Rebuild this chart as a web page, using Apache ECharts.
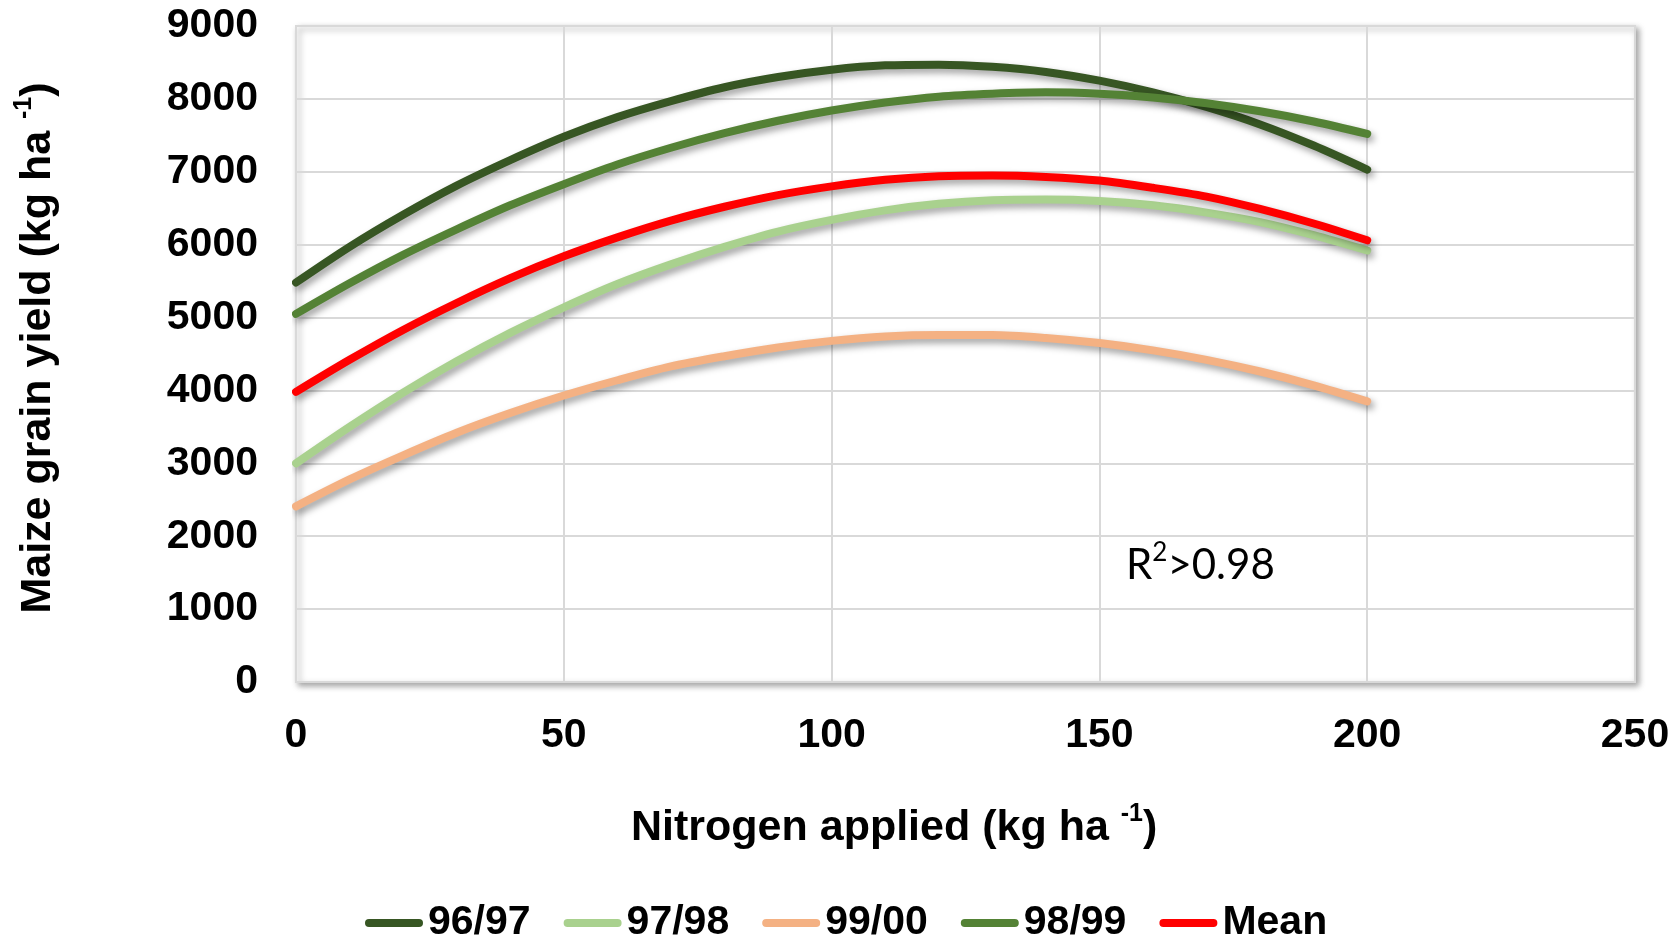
<!DOCTYPE html>
<html>
<head>
<meta charset="utf-8">
<title>Maize grain yield response to nitrogen</title>
<script src="https://cdn.jsdelivr.net/npm/echarts@6/dist/echarts.min.js"></script>
<style>
  html, body { margin: 0; padding: 0; background: #ffffff; }
  #chart { width: 1678px; height: 940px; }
</style>
</head>
<body>
<div id="chart"></div>
<script>
// Nitrogen rates (kg ha-1) at which the fitted response curves are sampled
const nitrogenRates = [0, 10, 20, 30, 40, 50, 60, 70, 80, 90, 100,
                       110, 120, 130, 140, 150, 160, 170, 180, 190, 200];

// Fitted maize grain yield (kg ha-1) per season
const yield9697 = [5480, 5970, 6410, 6810, 7160, 7480, 7750, 7970, 8160, 8300, 8400,
                   8460, 8470, 8440, 8370, 8250, 8090, 7890, 7650, 7360, 7030];
const yield9798 = [3000, 3500, 3970, 4400, 4790, 5140, 5460, 5730, 5970, 6180, 6340,
                   6470, 6560, 6610, 6620, 6600, 6540, 6440, 6310, 6130, 5920];
const yield9900 = [2410, 2780, 3110, 3420, 3690, 3930, 4140, 4330, 4470, 4590, 4680,
                   4740, 4760, 4760, 4720, 4650, 4550, 4420, 4260, 4070, 3850];
const yield9899 = [5050, 5470, 5860, 6210, 6540, 6830, 7100, 7330, 7530, 7700, 7840,
                   7950, 8030, 8070, 8090, 8070, 8020, 7940, 7830, 7690, 7520];
const yieldMean = [3980, 4420, 4830, 5200, 5540, 5840, 6100, 6330, 6520, 6680, 6800,
                   6890, 6940, 6950, 6930, 6880, 6780, 6660, 6490, 6290, 6060];

const seriesNames = ['96/97', '97/98', '99/00', '98/99', 'Mean'];
const seriesValues = [yield9697, yield9798, yield9900, yield9899, yieldMean];
const seriesColors = ['#375623', '#A9D18E', '#F4B183', '#548235', '#FF0000'];

const xTicks = { min: 0, max: 250, interval: 50 };
const yTicks = { min: 0, max: 9000, interval: 1000 };

const FONT = "'Liberation Sans', Arial, Helvetica, sans-serif";
const capsule = 'path://M4,0 L54,0 A4,4 0 0 1 54,8 L4,8 A4,4 0 0 1 4,0 Z';

const chart = echarts.init(document.getElementById('chart'), null, { renderer: 'canvas' });

const series = seriesNames.map((name, i) => ({
  name: name,
  type: 'line',
  smooth: 0.3,
  symbol: 'none',
  showSymbol: false,
  color: seriesColors[i],
  data: nitrogenRates.map((x, j) => [x, seriesValues[i][j]]),
  lineStyle: {
    width: 8,
    color: seriesColors[i],
    cap: 'round',
    join: 'round',
    shadowColor: 'rgba(0,0,0,0.38)',
    shadowBlur: 7,
    shadowOffsetX: 3,
    shadowOffsetY: 4
  },
  emphasis: { disabled: true },
  z: 3 + i
}));

const titleRich = {
  t: { fontFamily: FONT, fontWeight: 'bold', fontSize: 43, lineHeight: 48, fill: '#000', verticalAlign: 'bottom' },
  s: { fontFamily: FONT, fontWeight: 'bold', fontSize: 25, lineHeight: 25, fill: '#000', verticalAlign: 'top' }
};

const option = {
  animation: false,
  backgroundColor: '#ffffff',
  grid: {
    show: true,
    left: 296,
    right: 43,
    top: 26,
    bottom: 258,
    backgroundColor: '#ffffff',
    borderColor: '#d9d9d9',
    borderWidth: 2,
    shadowColor: 'rgba(0,0,0,0.35)',
    shadowBlur: 6,
    shadowOffsetX: 3,
    shadowOffsetY: 3
  },
  xAxis: {
    type: 'value',
    min: xTicks.min,
    max: xTicks.max,
    interval: xTicks.interval,
    axisLine: { show: false },
    axisTick: { show: false },
    splitLine: { show: true, lineStyle: { color: '#d9d9d9', width: 2 } },
    axisLabel: {
      margin: 33,
      color: '#000000',
      fontFamily: FONT,
      fontWeight: 'bold',
      fontSize: 41,
      formatter: (v) => String(v)
    }
  },
  yAxis: {
    type: 'value',
    min: yTicks.min,
    max: yTicks.max,
    interval: yTicks.interval,
    axisLine: { show: false },
    axisTick: { show: false },
    splitLine: { show: true, lineStyle: { color: '#d9d9d9', width: 2 } },
    axisLabel: {
      margin: 38,
      color: '#000000',
      fontFamily: FONT,
      fontWeight: 'bold',
      fontSize: 41,
      formatter: (v) => String(v)
    }
  },
  legend: {
    data: seriesNames,
    left: 365,
    top: 901,
    padding: 0,
    orient: 'horizontal',
    icon: capsule,
    itemWidth: 58,
    itemHeight: 8,
    itemGap: 33,
    selectedMode: false,
    textStyle: {
      color: '#000000',
      fontFamily: FONT,
      fontWeight: 'bold',
      fontSize: 41,
      lineHeight: 44
    }
  },
  graphic: [
    {
      type: 'text',
      left: 631,
      top: 802,
      silent: true,
      style: {
        text: '{t|Nitrogen applied (kg ha }{s|-1}{t|)}',
        rich: titleRich
      }
    },
    {
      type: 'text',
      x: 36,
      y: 348,
      rotation: Math.PI / 2,
      silent: true,
      style: {
        text: '{t|Maize grain yield (kg ha }{s|-1}{t|)}',
        align: 'center',
        verticalAlign: 'middle',
        rich: titleRich
      }
    },
    {
      type: 'text',
      left: 1126,
      top: 540,
      silent: true,
      style: {
        text: '{a|R}{s|2}{a|>0.98}',
        rich: {
          a: { fontFamily: "Lato, 'Open Sans', sans-serif", fontSize: 42, lineHeight: 46, fill: '#000', verticalAlign: 'bottom' },
          s: { fontFamily: "Lato, 'Open Sans', sans-serif", fontSize: 26, lineHeight: 26, fill: '#000', verticalAlign: 'top' }
        }
      }
    }
  ],
  series: series
};

chart.setOption(option);
</script>
</body>
</html>
